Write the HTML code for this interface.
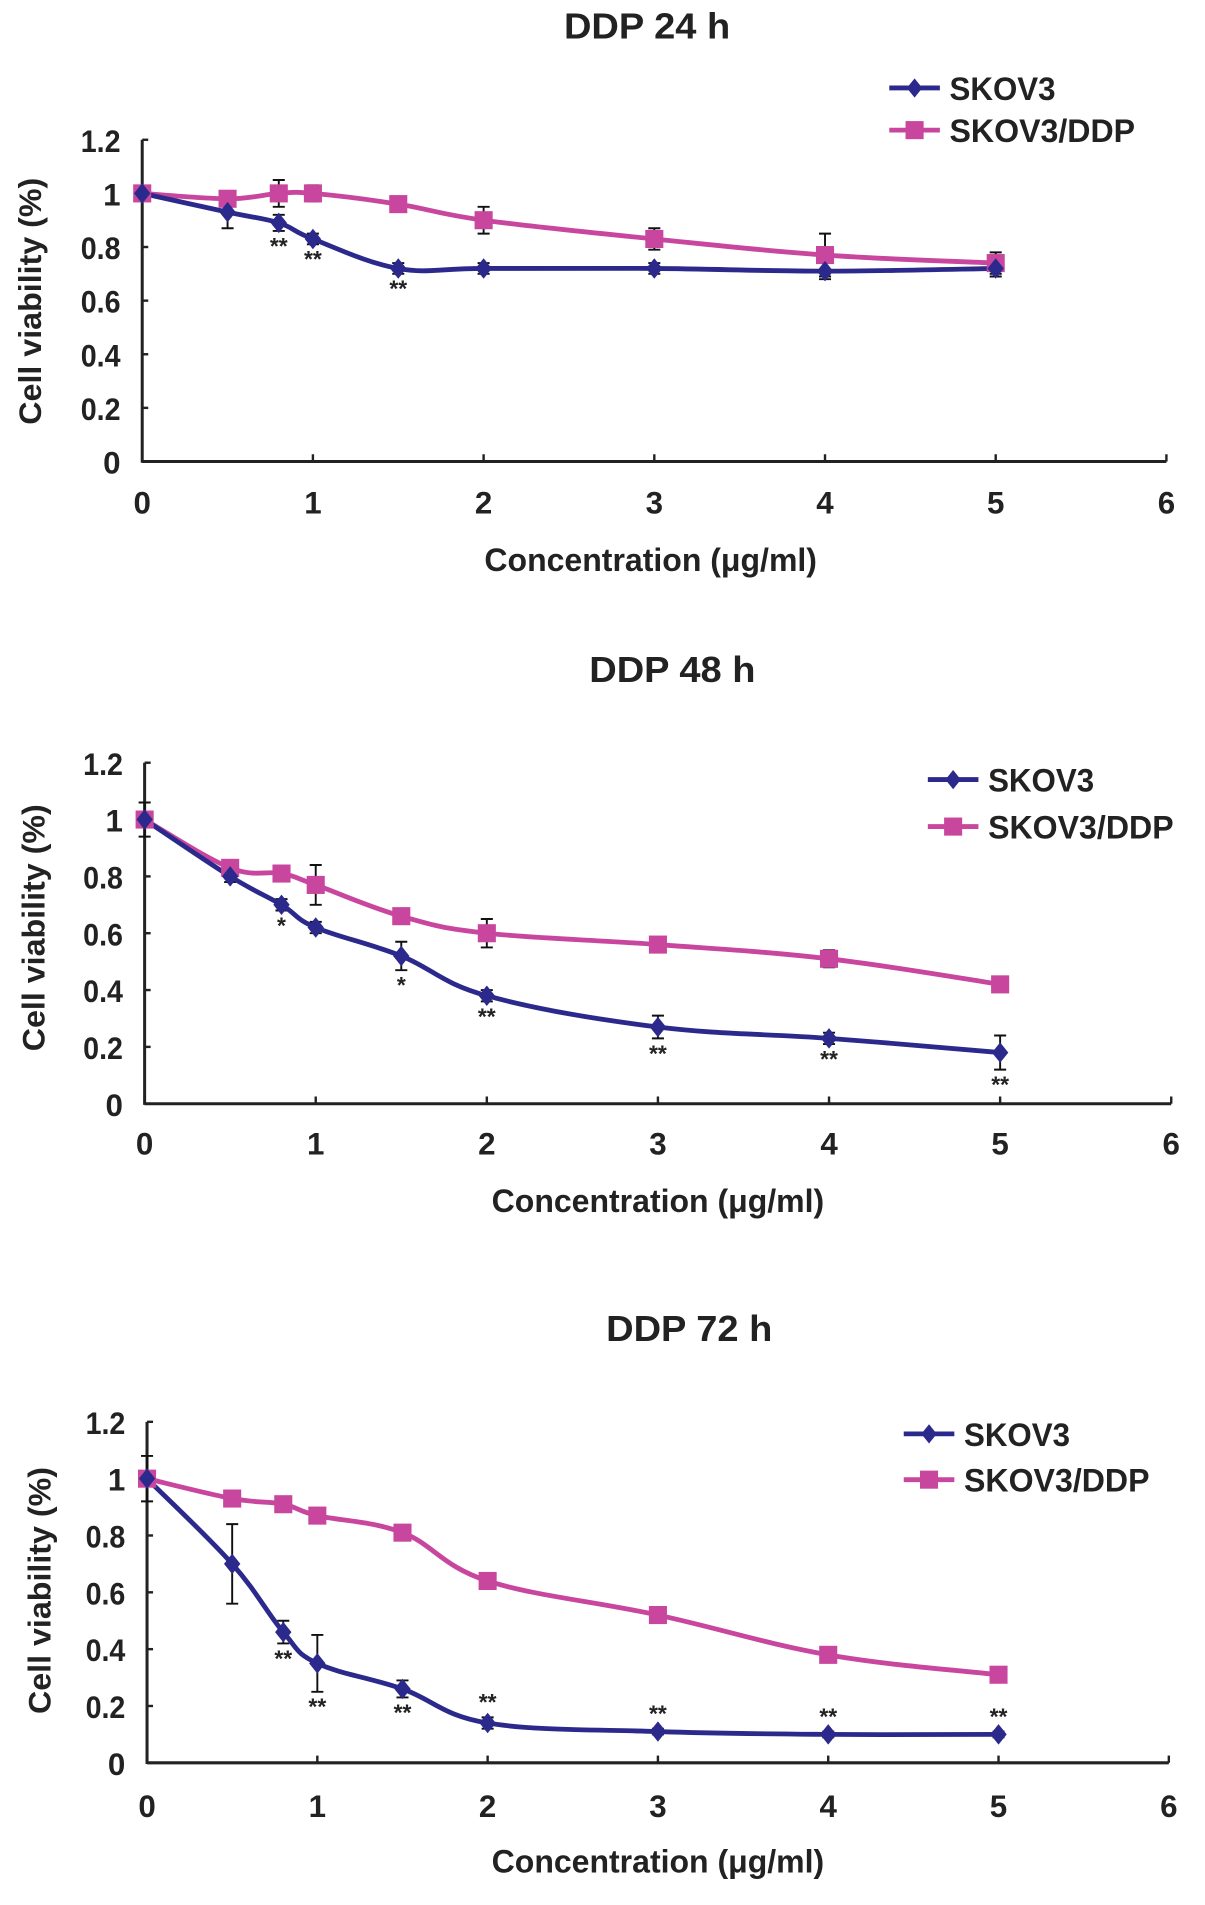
<!DOCTYPE html>
<html><head><meta charset="utf-8"><style>
html,body{margin:0;padding:0;background:#fff;width:1205px;height:1905px;overflow:hidden}
svg text{font-family:"Liberation Sans",sans-serif;font-weight:bold;fill:#222}
</style></head><body>
<svg id="fig" width="1205" height="1905" viewBox="0 0 1000 1581" xmlns="http://www.w3.org/2000/svg"></svg>
<script>
const xVals=[0,0.5,0.8,1,1.5,2,3,4,5];
const xTicks=[0,1,2,3,4,5,6];
const yTicks=[0,0.2,0.4,0.6,0.8,1,1.2];
const yTickLabels=["0","0.2","0.4","0.6","0.8","1","1.2"];
const titles=["DDP 24 h","DDP 48 h","DDP 72 h"];
const sk24=[1,0.93,0.89,0.83,0.72,0.72,0.72,0.71,0.72];
const sk24Err=[0.02,0.06,0.03,0.02,0.02,0.02,0.02,0.03,0.03];
const dd24=[1,0.98,1.0,1.0,0.96,0.9,0.83,0.77,0.74];
const dd24Err=[0.02,0.02,0.05,0.03,0.01,0.05,0.04,0.08,0.04];
const st24=["","","**","**","**","","","",""];
const sk48=[1,0.8,0.7,0.62,0.52,0.38,0.27,0.23,0.18];
const sk48Err=[0.06,0.02,0.02,0.02,0.05,0.02,0.04,0.02,0.06];
const dd48=[1,0.83,0.81,0.77,0.66,0.6,0.56,0.51,0.42];
const dd48Err=[0.02,0.01,0.01,0.07,0.01,0.05,0.01,0.03,0.01];
const st48=["","","*","","*","**","**","**","**"];
const sk72=[1,0.7,0.46,0.35,0.26,0.14,0.11,0.1,0.1];
const sk72Err=[0.08,0.14,0.04,0.1,0.03,0.02,0.01,0.01,0.01];
const dd72=[1,0.93,0.91,0.87,0.81,0.64,0.52,0.38,0.31];
const dd72Err=[0.01,0.01,0.01,0.01,0.01,0.01,0.01,0.01,0.01];
const st72=["","","**","**","**","**","**","**","**"];
const stAbove72=[false,false,false,false,false,true,true,true,true];

const NS="http://www.w3.org/2000/svg";
const svg=document.getElementById('fig');
function mk(t,a,p){const e=document.createElementNS(NS,t);for(const k in a)e.setAttribute(k,a[k]);(p||svg).appendChild(e);return e;}
const BLUE="#2b2a8c",PINK="#c8469e";
const layouts=[
 {x0:118,x6:968,y0:383,y12:116,title:[537,32],tickY:426,xt:[540,474],yt:[25,250],leg:[738,73,108]},
 {x0:120,x6:972,y0:916,y12:633,title:[558,566],tickY:958,xt:[546,1006],yt:[28,770],leg:[770,647,686]},
 {x0:122,x6:970,y0:1463,y12:1180,title:[572,1113],tickY:1508,xt:[546,1554],yt:[33,1320],leg:[750,1190,1228]}
];
const datasets=[
 {sk:sk24,skE:sk24Err,dd:dd24,ddE:dd24Err,st:st24,above:null},
 {sk:sk48,skE:sk48Err,dd:dd48,ddE:dd48Err,st:st48,above:null},
 {sk:sk72,skE:sk72Err,dd:dd72,ddE:dd72Err,st:st72,above:stAbove72}
];
function smooth(pts){let d=`M${pts[0][0]},${pts[0][1]}`;for(let i=0;i<pts.length-1;i++){const p0=pts[i-1]||pts[i],p1=pts[i],p2=pts[i+1],p3=pts[i+2]||p2;const t=0.18;d+=` C${p1[0]+(p2[0]-p0[0])*t},${p1[1]+(p2[1]-p0[1])*t} ${p2[0]-(p3[0]-p1[0])*t},${p2[1]-(p3[1]-p1[1])*t} ${p2[0]},${p2[1]}`;}return d;}
function diamond(g,x,y,s){const e=mk('polygon',{points:`${x},${y-s} ${x+s*0.8},${y} ${x},${y+s} ${x-s*0.8},${y}`,fill:BLUE},g);return e;}
function square(g,x,y,s){const e=mk('rect',{x:x-s,y:y-s,width:2*s,height:2*s,fill:PINK},g);return e;}
layouts.forEach((L,ci)=>{
 const D=datasets[ci];
 const X=v=>L.x0+(L.x6-L.x0)*v/6, Y=v=>L.y0-(L.y0-L.y12)*v/1.2;
 const g=mk('g',{});
 
 
 let t=mk('text',{x:L.title[0],y:L.title[1],'font-size':30,'text-anchor':'middle',textLength:138,lengthAdjust:'spacingAndGlyphs'},g);t.textContent=titles[ci];
 
 let a=mk('line',{x1:L.x0,y1:L.y12,x2:L.x0,y2:L.y0+1,stroke:'#222','stroke-width':2.5},g);
 
 a=mk('line',{x1:L.x0,y1:L.y0,x2:L.x6,y2:L.y0,stroke:'#222','stroke-width':2.5},g);
 
 yTicks.forEach((v,i)=>{mk('line',{x1:L.x0,y1:Y(v),x2:L.x0+5,y2:Y(v),stroke:'#222','stroke-width':2},g);
  const tl=mk('text',{x:L.x0-18,y:Y(v)+10,'font-size':26,'text-anchor':'end'},g);tl.textContent=yTickLabels[i];
  if(yTickLabels[i].length>1){tl.setAttribute('textLength',yTickLabels[i].length*11);tl.setAttribute('lengthAdjust','spacingAndGlyphs');}
  });
 xTicks.forEach(v=>{mk('line',{x1:X(v),y1:L.y0,x2:X(v),y2:L.y0-6,stroke:'#222','stroke-width':2},g);
  const tl=mk('text',{x:X(v),y:L.tickY,'font-size':26,'text-anchor':'middle'},g);tl.textContent=v;
  });
 t=mk('text',{x:L.xt[0],y:L.xt[1],'font-size':27,'text-anchor':'middle',textLength:276,lengthAdjust:'spacingAndGlyphs'},g);t.textContent="Concentration (μg/ml)";
 
 t=mk('text',{x:0,y:0,'font-size':26,'text-anchor':'middle',textLength:205,lengthAdjust:'spacingAndGlyphs',transform:`translate(${L.yt[0]+9},${L.yt[1]}) rotate(-90)`},g);t.textContent="Cell viability (%)";
 
 function err(vals,errs){vals.forEach((v,i)=>{const x=X(xVals[i]),y1=Y(v+errs[i]),y2=Y(v-errs[i]);
  const e=mk('path',{d:`M${x},${y1}V${y2}M${x-5},${y1}H${x+5}M${x-5},${y2}H${x+5}`,stroke:'#111','stroke-width':1.6,fill:'none'},g);
  });}
 err(D.dd,D.ddE);err(D.sk,D.skE);
 let p=mk('path',{d:smooth(D.dd.map((v,i)=>[X(xVals[i]),Y(v)])),stroke:PINK,'stroke-width':4,fill:'none'},g);
 
 p=mk('path',{d:smooth(D.sk.map((v,i)=>[X(xVals[i]),Y(v)])),stroke:BLUE,'stroke-width':4,fill:'none'},g);
 
 D.dd.forEach((v,i)=>square(g,X(xVals[i]),Y(v),7.5));
 D.sk.forEach((v,i)=>diamond(g,X(xVals[i]),Y(v),8.5));
 D.st.forEach((s,i)=>{if(!s)return;const above=D.above&&D.above[i];const v=D.sk[i];
  const y=above?Y(v+D.skE[i])-6:Y(v-D.skE[i])+19;
  const e=mk('text',{x:X(xVals[i]),y:y,'font-size':19,'text-anchor':'middle','font-family':'Liberation Serif','font-weight':'normal'},g);e.textContent=s;
  });
 const lg=mk('g',{},g);
 mk('line',{x1:L.leg[0],y1:L.leg[1],x2:L.leg[0]+42,y2:L.leg[1],stroke:BLUE,'stroke-width':4},lg);
 diamond(lg,L.leg[0]+21,L.leg[1],8);
 t=mk('text',{x:L.leg[0]+50,y:L.leg[1]+10,'font-size':27,textLength:88,lengthAdjust:'spacingAndGlyphs'},lg);t.textContent="SKOV3";
 
 mk('line',{x1:L.leg[0],y1:L.leg[2],x2:L.leg[0]+42,y2:L.leg[2],stroke:PINK,'stroke-width':4},lg);
 square(lg,L.leg[0]+21,L.leg[2],7.5);
 t=mk('text',{x:L.leg[0]+50,y:L.leg[2]+10,'font-size':27,textLength:154,lengthAdjust:'spacingAndGlyphs'},lg);t.textContent="SKOV3/DDP";
 
});
</script>
</body></html>
